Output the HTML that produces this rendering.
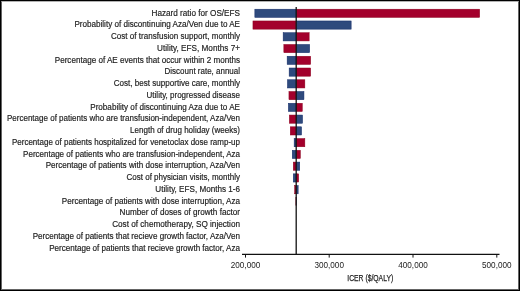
<!DOCTYPE html>
<html><head><meta charset="utf-8"><style>
html,body{margin:0;padding:0;background:#fff;}
body{width:520px;height:291px;overflow:hidden;position:relative;}
.frame{position:absolute;left:0;top:0;width:518px;height:289px;border:1px solid #000;}
.frame2{position:absolute;left:1px;top:1px;width:516px;height:287px;border:1px solid rgba(0,0,0,.6);border-top-color:rgba(0,0,0,.3);}
svg{position:absolute;left:0;top:0;will-change:transform;}
text{font-family:"Liberation Sans",sans-serif;font-size:8px;fill:#222;}
.lbl text{font-size:8.5px;stroke:#222;stroke-width:0.18px;}
.lbl text{text-anchor:end;}
</style></head><body>
<div class="frame"></div><div class="frame2"></div>
<svg width="520" height="291" viewBox="0 0 520 291">
<g class="lbl">
<rect x="254.85" y="9.20" width="41.10" height="8.20" fill="#2e4a7d" stroke="#122a68" stroke-width="0.5"/>
<rect x="296.45" y="9.20" width="183.20" height="8.20" fill="#a3002c" stroke="#8c001f" stroke-width="0.5"/>
<rect x="252.95" y="20.96" width="43.00" height="8.20" fill="#a3002c" stroke="#8c001f" stroke-width="0.5"/>
<rect x="296.45" y="20.96" width="54.70" height="8.20" fill="#2e4a7d" stroke="#122a68" stroke-width="0.5"/>
<rect x="283.15" y="32.72" width="12.80" height="8.20" fill="#2e4a7d" stroke="#122a68" stroke-width="0.5"/>
<rect x="296.45" y="32.72" width="12.70" height="8.20" fill="#a3002c" stroke="#8c001f" stroke-width="0.5"/>
<rect x="283.85" y="44.48" width="12.10" height="8.20" fill="#a3002c" stroke="#8c001f" stroke-width="0.5"/>
<rect x="296.45" y="44.48" width="13.20" height="8.20" fill="#2e4a7d" stroke="#122a68" stroke-width="0.5"/>
<rect x="287.15" y="56.24" width="8.80" height="8.20" fill="#2e4a7d" stroke="#122a68" stroke-width="0.5"/>
<rect x="296.45" y="56.24" width="14.20" height="8.20" fill="#a3002c" stroke="#8c001f" stroke-width="0.5"/>
<rect x="289.15" y="68.00" width="6.80" height="8.20" fill="#2e4a7d" stroke="#122a68" stroke-width="0.5"/>
<rect x="296.45" y="68.00" width="14.20" height="8.20" fill="#a3002c" stroke="#8c001f" stroke-width="0.5"/>
<rect x="287.45" y="79.76" width="8.50" height="8.20" fill="#2e4a7d" stroke="#122a68" stroke-width="0.5"/>
<rect x="296.45" y="79.76" width="8.40" height="8.20" fill="#a3002c" stroke="#8c001f" stroke-width="0.5"/>
<rect x="288.95" y="91.52" width="7.00" height="8.20" fill="#a3002c" stroke="#8c001f" stroke-width="0.5"/>
<rect x="296.45" y="91.52" width="7.50" height="8.20" fill="#2e4a7d" stroke="#122a68" stroke-width="0.5"/>
<rect x="288.35" y="103.28" width="7.60" height="8.20" fill="#2e4a7d" stroke="#122a68" stroke-width="0.5"/>
<rect x="296.45" y="103.28" width="5.80" height="8.20" fill="#a3002c" stroke="#8c001f" stroke-width="0.5"/>
<rect x="289.35" y="115.04" width="6.60" height="8.20" fill="#a3002c" stroke="#8c001f" stroke-width="0.5"/>
<rect x="296.45" y="115.04" width="6.10" height="8.20" fill="#2e4a7d" stroke="#122a68" stroke-width="0.5"/>
<rect x="290.25" y="126.80" width="5.70" height="8.20" fill="#a3002c" stroke="#8c001f" stroke-width="0.5"/>
<rect x="296.45" y="126.80" width="5.10" height="8.20" fill="#2e4a7d" stroke="#122a68" stroke-width="0.5"/>
<rect x="294.15" y="138.56" width="1.80" height="8.20" fill="#2e4a7d" stroke="#122a68" stroke-width="0.5"/>
<rect x="296.45" y="138.56" width="8.40" height="8.20" fill="#a3002c" stroke="#8c001f" stroke-width="0.5"/>
<rect x="292.25" y="150.32" width="3.70" height="8.20" fill="#2e4a7d" stroke="#122a68" stroke-width="0.5"/>
<rect x="296.45" y="150.32" width="3.90" height="8.20" fill="#a3002c" stroke="#8c001f" stroke-width="0.5"/>
<rect x="293.25" y="162.08" width="2.70" height="8.20" fill="#a3002c" stroke="#8c001f" stroke-width="0.5"/>
<rect x="296.45" y="162.08" width="3.30" height="8.20" fill="#2e4a7d" stroke="#122a68" stroke-width="0.5"/>
<rect x="293.25" y="173.84" width="2.70" height="8.20" fill="#2e4a7d" stroke="#122a68" stroke-width="0.5"/>
<rect x="296.45" y="173.84" width="2.20" height="8.20" fill="#a3002c" stroke="#8c001f" stroke-width="0.5"/>
<rect x="294.65" y="185.60" width="1.30" height="8.20" fill="#a3002c" stroke="#8c001f" stroke-width="0.5"/>
<rect x="296.45" y="185.60" width="1.70" height="8.20" fill="#2e4a7d" stroke="#122a68" stroke-width="0.5"/>
<rect x="295.85" y="197.36" width="0.10" height="8.20" fill="#a3002c" stroke="#8c001f" stroke-width="0.5"/>
<rect x="296.45" y="197.36" width="0.10" height="8.20" fill="#2e4a7d" stroke="#122a68" stroke-width="0.5"/>
<rect x="295.95" y="209.12" width="0.00" height="8.20" fill="#2e4a7d" stroke="#122a68" stroke-width="0.5"/>
<rect x="296.45" y="209.12" width="0.00" height="8.20" fill="#a3002c" stroke="#8c001f" stroke-width="0.5"/>
<rect x="295.95" y="220.88" width="0.00" height="8.20" fill="#a3002c" stroke="#8c001f" stroke-width="0.5"/>
<rect x="296.45" y="220.88" width="0.00" height="8.20" fill="#2e4a7d" stroke="#122a68" stroke-width="0.5"/>
<rect x="295.95" y="232.64" width="0.00" height="8.20" fill="#2e4a7d" stroke="#122a68" stroke-width="0.5"/>
<rect x="296.45" y="232.64" width="0.00" height="8.20" fill="#a3002c" stroke="#8c001f" stroke-width="0.5"/>
<rect x="295.95" y="244.40" width="0.00" height="8.20" fill="#a3002c" stroke="#8c001f" stroke-width="0.5"/>
<rect x="296.45" y="244.40" width="0.00" height="8.20" fill="#2e4a7d" stroke="#122a68" stroke-width="0.5"/>
<text x="240" y="15.50" textLength="88.50" lengthAdjust="spacingAndGlyphs">Hazard ratio for OS/EFS</text>
<text x="240" y="27.26" textLength="165.57" lengthAdjust="spacingAndGlyphs">Probability of discontinuing Aza/Ven due to AE</text>
<text x="240" y="39.02" textLength="128.96" lengthAdjust="spacingAndGlyphs">Cost of transfusion support, monthly</text>
<text x="240" y="50.78" textLength="82.90" lengthAdjust="spacingAndGlyphs">Utility, EFS, Months 7+</text>
<text x="240" y="62.54" textLength="185.22" lengthAdjust="spacingAndGlyphs">Percentage of AE events that occur within 2 months</text>
<text x="240" y="74.30" textLength="75.42" lengthAdjust="spacingAndGlyphs">Discount rate, annual</text>
<text x="240" y="86.06" textLength="126.20" lengthAdjust="spacingAndGlyphs">Cost, best supportive care, monthly</text>
<text x="240" y="97.82" textLength="93.44" lengthAdjust="spacingAndGlyphs">Utility, progressed disease</text>
<text x="240" y="109.58" textLength="149.76" lengthAdjust="spacingAndGlyphs">Probability of discontinuing Aza due to AE</text>
<text x="240" y="121.34" textLength="233.02" lengthAdjust="spacingAndGlyphs">Percentage of patients who are transfusion-independent, Aza/Ven</text>
<text x="240" y="133.10" textLength="109.90" lengthAdjust="spacingAndGlyphs">Length of drug holiday (weeks)</text>
<text x="240" y="144.86" textLength="228.04" lengthAdjust="spacingAndGlyphs">Percentage of patients hospitalized for venetoclax dose ramp-up</text>
<text x="240" y="156.62" textLength="216.90" lengthAdjust="spacingAndGlyphs">Percentage of patients who are transfusion-independent, Aza</text>
<text x="240" y="168.38" textLength="194.33" lengthAdjust="spacingAndGlyphs">Percentage of patients with dose interruption, Aza/Ven</text>
<text x="240" y="180.14" textLength="113.48" lengthAdjust="spacingAndGlyphs">Cost of physician visits, monthly</text>
<text x="240" y="191.90" textLength="84.64" lengthAdjust="spacingAndGlyphs">Utility, EFS, Months 1-6</text>
<text x="240" y="203.66" textLength="178.21" lengthAdjust="spacingAndGlyphs">Percentage of patients with dose interruption, Aza</text>
<text x="240" y="215.42" textLength="120.39" lengthAdjust="spacingAndGlyphs">Number of doses of growth factor</text>
<text x="240" y="227.18" textLength="127.85" lengthAdjust="spacingAndGlyphs">Cost of chemotherapy, SQ injection</text>
<text x="240" y="238.94" textLength="207.36" lengthAdjust="spacingAndGlyphs">Percentage of patients that recieve growth factor, Aza/Ven</text>
<text x="240" y="250.70" textLength="190.85" lengthAdjust="spacingAndGlyphs">Percentage of patients that recieve growth factor, Aza</text>
</g>
<line x1="296.2" y1="6.9" x2="296.2" y2="254" stroke="#111" stroke-width="1.3"/>
<line x1="242" y1="254.4" x2="499.5" y2="254.4" stroke="#111" stroke-width="1.2"/>
<line x1="245.5" y1="254" x2="245.5" y2="257.6" stroke="#111" stroke-width="1"/><text x="245.5" y="268.3" text-anchor="middle" style="font-size:8.5px" textLength="29.5" lengthAdjust="spacingAndGlyphs">200,000</text>
<line x1="329.2" y1="254" x2="329.2" y2="257.6" stroke="#111" stroke-width="1"/><text x="329.2" y="268.3" text-anchor="middle" style="font-size:8.5px" textLength="29.5" lengthAdjust="spacingAndGlyphs">300,000</text>
<line x1="413.0" y1="254" x2="413.0" y2="257.6" stroke="#111" stroke-width="1"/><text x="413.0" y="268.3" text-anchor="middle" style="font-size:8.5px" textLength="29.5" lengthAdjust="spacingAndGlyphs">400,000</text>
<line x1="496.8" y1="254" x2="496.8" y2="257.6" stroke="#111" stroke-width="1"/><text x="496.8" y="268.3" text-anchor="middle" style="font-size:8.5px" textLength="29.5" lengthAdjust="spacingAndGlyphs">500,000</text>
<text x="347.3" y="281.2" style="font-size:9.2px;stroke:#222;stroke-width:0.25px" textLength="45.9" lengthAdjust="spacingAndGlyphs">ICER ($/QALY)</text>
</svg>
</body></html>
